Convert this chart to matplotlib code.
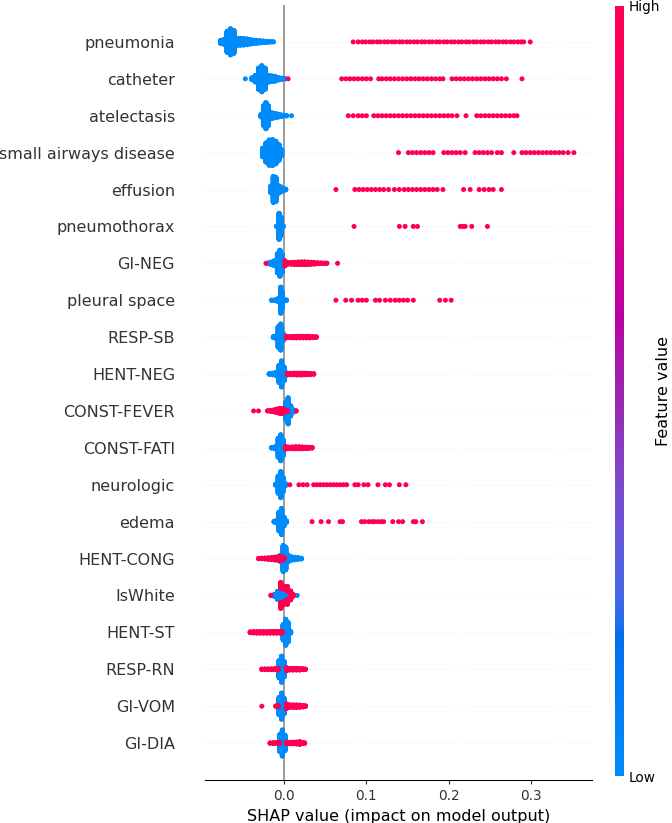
import numpy as np
import matplotlib
matplotlib.use("Agg")
import matplotlib.pyplot as plt
from matplotlib.colors import LinearSegmentedColormap, Normalize
from matplotlib.cm import ScalarMappable

# SHAP values in thousandths.
# plain number = one dot, (value, n) = n dots at that value
pneumonia_blue = [(-77, 20), (-73, 30), (-69, 130), (-65, 160), (-61, 140), (-57, 45), (-53, 42),
                  (-49, 40), (-45, 36), (-41, 28), (-37, 22), (-33, 18), (-29, 14), (-25, 10),
                  (-21, 7), (-17, 4), (-13, 2)]
pneumonia_red = [84, 90, 95, 99, 104, 108, 113, 117, 122, 126, 131, 135, 140, 144, 149, 153, 158,
                 162, 167, 171, 176, 180, 185, 189, 194, 198, 203, 207, 212, 216, 221, 225, 230,
                 234, 239, 243, 248, 252, 257, 261, 266, 270, 275, 279, 284, 288, 291, 299]

catheter_blue = [(-47, 1), (-39, 12), (-35, 40), (-31, 130), (-27, 160), (-23, 130), (-19, 42),
                 (-15, 36), (-11, 30), (-7, 16), (-3, 8), (1, 4)]
catheter_red = [5, 70, 75, 80, 85, 90, 95, 100, 105, 115, 119, 124, 129, 134, 139, 144, 149, 154,
                159, 164, 169, 174, 179, 184, 189, 193, 204, 209, 214, 219, 224, 229, 234, 239,
                244, 249, 254, 259, 264, 270, 289]

atelectasis_blue = [(-28, 15), (-25, 120), (-22, 160), (-19, 120), (-16, 40), (-13, 30), (-10, 24),
                    (-7, 18), (-4, 10), (-1, 6), (3, 3), (9, 1)]
atelectasis_red = [78, 84, 90, 95, 100, 109, 114, 119, 124, 129, 134, 139, 144, 149, 154, 159, 164,
                   169, 174, 179, 184, 189, 194, 199, 204, 210, 221, 234, 239, 244, 249, 254, 259,
                   264, 269, 274, 279, 283]

small_airways_blue = [(-26, 50), (-22, 110), (-18, 145), (-14, 150), (-10, 130), (-6, 90), (-3, 35)]
small_airways_red = [139, 151, 156, 161, 166, 171, 176, 181, 194, 199, 204, 209, 214, 220, 232, 237,
                     242, 247, 252, 259, 264, 279, 289, 294, 299, 304, 309, 314, 319, 324, 329, 334,
                     339, 345, 352]

effusion_blue = [(-16, 40), (-13, 150), (-10, 140), (-7, 45), (-4, 30), (-1, 15), (2, 5)]
effusion_red = [63, 86, 91, 96, 101, 106, 111, 116, 121, 127, 134, 140, 146, 151, 156, 161, 166,
                171, 176, 181, 186, 193, 218, 226, 237, 243, 249, 254, 264]

pneumothorax_blue = [(-9, 4), (-6, 150), (-4, 110), (-1, 4)]
pneumothorax_red = [85, 140, 147, 157, 162, 214, 217, 220, 228, 247]

gi_neg_blue = [(-20, 5), (-16, 14), (-12, 28), (-8, 110), (-5, 150), (-2, 100), (1, 25), (4, 8)]
gi_neg_red = [(-22, 1), (1, 6), (5, 9), (9, 11), (13, 13), (17, 15), (21, 16), (25, 16), (29, 15),
              (33, 12), (37, 9), (41, 6), (45, 4), (49, 3), (52, 2), (65, 1)]

pleural_blue = [(-15, 3), (-11, 5), (-7, 20), (-4, 150), (-2, 90), (1, 5), (3, 3)]
pleural_red = [63, 75, 82, 90, 95, 100, 111, 116, 123, 129, 135, 140, 145, 150, 157, 189, 196, 203]

resp_sb_blue = [(-13, 6), (-10, 15), (-7, 120), (-4, 150), (-1, 40), (3, 5)]
resp_sb_red = [(3, 5), (7, 7), (11, 9), (15, 10), (19, 10), (23, 10), (27, 10), (31, 9), (35, 7), (39, 4)]

hent_neg_blue = [(-18, 4), (-14, 10), (-10, 18), (-6, 100), (-3, 150), (0, 80), (3, 15)]
hent_neg_red = [(4, 7), (8, 9), (12, 10), (16, 11), (20, 11), (24, 10), (28, 9), (32, 7), (36, 4)]

const_fever_blue = [(-4, 10), (-1, 30), (2, 100), (5, 150), (8, 60), (11, 15), (14, 4)]
const_fever_red = [(-37, 1), (-31, 1), (-20, 2), (-17, 4), (-14, 8), (-11, 14), (-8, 22), (-5, 30),
                   (-2, 30), (1, 12), (4, 5), (15, 1)]

const_fati_blue = [(-15, 4), (-11, 12), (-7, 110), (-4, 150), (-1, 90), (2, 10)]
const_fati_red = [(2, 6), (6, 9), (10, 11), (14, 12), (18, 12), (22, 11), (26, 9), (30, 7), (34, 4)]

neurologic_blue = [(-10, 8), (-7, 100), (-4, 150), (-1, 80), (2, 10)]
neurologic_red = [7, 18, 23, 28, 36, 40, 44, 48, 52, 56, 60, 64, 68, 72, 76, 86, 90, 97, 102, 114,
                  123, 128, 140, 148]

edema_blue = [(-12, 5), (-9, 15), (-6, 110), (-3, 150), (0, 50), (3, 8)]
edema_red = [34, 45, 54, 68, 71, 94, 98, 103, 107, 110, 114, 118, 121, 132, 139, 144, 157, 160, 168]

hent_cong_blue = [(-4, 40), (-1, 150), (2, 130), (5, 40), (9, 20), (13, 15), (17, 10), (21, 5)]
hent_cong_red = [(-31, 2), (-27, 4), (-23, 6), (-19, 9), (-15, 13), (-11, 17), (-7, 22), (-3, 22), (0, 8)]

is_white_blue = [(-12, 10), (-8, 40), (-4, 70), (0, 60), (4, 40), (8, 15), (16, 1)]
is_white_red = [(-16, 2), (-4, 60), (0, 30), (4, 50), (8, 30), (11, 10)]

hent_st_blue = [(-1, 90), (2, 150), (5, 110), (8, 10)]
hent_st_red = [(-41, 6), (-37, 8), (-33, 9), (-29, 9), (-25, 9), (-21, 9), (-17, 10), (-13, 10),
               (-9, 10), (-5, 10), (-2, 8)]

resp_rn_blue = [(-6, 100), (-3, 150), (0, 90), (3, 10)]
resp_rn_red = [(-27, 3), (-23, 4), (-19, 5), (-15, 5), (-11, 6), (-7, 6), (3, 8), (7, 10), (11, 10),
               (15, 10), (19, 9), (23, 6), (26, 3)]

gi_vom_blue = [(-6, 100), (-3, 150), (0, 90), (3, 15)]
gi_vom_red = [(-27, 1), (-10, 3), (-7, 4), (3, 12), (7, 14), (11, 15), (15, 15), (19, 13), (23, 9), (26, 4)]

gi_dia_blue = [(-5, 100), (-2, 150), (1, 90), (4, 10)]
gi_dia_red = [(-17, 3), (-13, 5), (-9, 6), (-6, 6), (3, 8), (7, 9), (11, 10), (15, 12), (19, 16),
              (22, 8), (25, 3)]

# top to bottom
features = ["pneumonia", "catheter", "atelectasis", "small airways disease", "effusion",
            "pneumothorax", "GI-NEG", "pleural space", "RESP-SB", "HENT-NEG", "CONST-FEVER",
            "CONST-FATI", "neurologic", "edema", "HENT-CONG", "IsWhite", "HENT-ST", "RESP-RN",
            "GI-VOM", "GI-DIA"]
blue_sets = [pneumonia_blue, catheter_blue, atelectasis_blue, small_airways_blue, effusion_blue,
             pneumothorax_blue, gi_neg_blue, pleural_blue, resp_sb_blue, hent_neg_blue,
             const_fever_blue, const_fati_blue, neurologic_blue, edema_blue, hent_cong_blue,
             is_white_blue, hent_st_blue, resp_rn_blue, gi_vom_blue, gi_dia_blue]
red_sets = [pneumonia_red, catheter_red, atelectasis_red, small_airways_red, effusion_red,
            pneumothorax_red, gi_neg_red, pleural_red, resp_sb_red, hent_neg_red,
            const_fever_red, const_fati_red, neurologic_red, edema_red, hent_cong_red,
            is_white_red, hent_st_red, resp_rn_red, gi_vom_red, gi_dia_red]


def expand(entries):
    out = []
    for e in entries:
        if isinstance(e, tuple):
            out += [e[0]] * e[1]
        else:
            out.append(e)
    return np.array(out, dtype=float) / 1000.0


def swarm(vals, nbins=100, row_height=0.4):
    # same stacking as the shap beeswarm
    quant = np.round(nbins * (vals - vals.min()) / (vals.max() - vals.min() + 1e-8))
    inds = np.argsort(quant, kind="stable")
    layer, last_bin = 0, -1
    ys = np.zeros(len(vals))
    for ind in inds:
        if quant[ind] != last_bin:
            layer = 0
        ys[ind] = np.ceil(layer / 2) * ((layer % 2) * 2 - 1)
        layer += 1
        last_bin = quant[ind]
    ys *= 0.9 * (row_height / np.max(ys + 1))
    return ys


def lch2rgb(l, c, h):
    a, b = c * np.cos(h), c * np.sin(h)
    fy = (l + 16) / 116.0
    fx, fz = fy + a / 500.0, fy - b / 200.0

    def finv(t):
        return t ** 3 if t > 6 / 29 else 3 * (6 / 29) ** 2 * (t - 4 / 29)
    xyz = np.array([0.95047 * finv(fx), finv(fy), 1.08883 * finv(fz)])
    m = np.array([[3.2406, -1.5372, -0.4986], [-0.9689, 1.8758, 0.0415], [0.0557, -0.2040, 1.0570]])
    rgb = m @ xyz
    rgb = np.where(rgb <= 0.0031308, 12.92 * rgb, 1.055 * np.abs(rgb) ** (1 / 2.4) - 0.055)
    return np.clip(rgb, 0, 1)


# shap red_blue colormap
steps = 100
l_vals = list(np.linspace(54, 40, steps // 2)) + list(np.linspace(40, 54, steps // 2))
c_vals = np.linspace(70, 90, steps)
h_vals = np.linspace(4.6588, 0.35470565 + 2 * np.pi, steps)
cols = [lch2rgb(l, c, h) for l, c, h in zip(l_vals, c_vals, h_vals)]
red_blue = LinearSegmentedColormap.from_list("red_blue", cols)

fig = plt.figure(figsize=(6.72, 8.23), dpi=100)
ax = fig.add_axes([205 / 672, 1 - 780 / 823, 387 / 672, 775 / 823])
cax = fig.add_axes([615 / 672, 1 - 776 / 823, 9 / 672, 770 / 823])

n = len(features)
ax.axvline(0, color="#999999", lw=1.35, zorder=-1)
for i, (blue, red) in enumerate(zip(blue_sets, red_sets)):
    pos = n - 1 - i
    ax.axhline(pos, color="#cccccc", lw=0.5, dashes=(1, 5), zorder=-1)
    b, r = expand(blue), expand(red)
    vals = np.concatenate([b, r])
    colors = np.concatenate([np.zeros(len(b)), np.ones(len(r))])
    ys = swarm(vals)
    ax.scatter(vals, pos + ys, c=colors, cmap=red_blue, vmin=0, vmax=1,
               s=13, linewidth=0, zorder=3)

ax.set_xlim(-0.096, 0.374)
ax.set_ylim(-1, n)
ax.set_yticks(range(n))
ax.set_yticklabels(features[::-1], fontsize=11.5)
ax.set_xticks([0.0, 0.1, 0.2, 0.3])
ax.set_xticklabels(["0.0", "0.1", "0.2", "0.3"])
ax.tick_params("y", length=0, pad=21.6, labelcolor="#333333")
ax.tick_params("x", labelsize=9.8, color="#333333", labelcolor="#333333", length=3)
for side in ["top", "right", "left"]:
    ax.spines[side].set_visible(False)
ax.spines["bottom"].set_linewidth(0.75)
ax.set_xlabel("SHAP value (impact on model output)", fontsize=11.5)

cb = fig.colorbar(ScalarMappable(norm=Normalize(0, 1), cmap=red_blue), cax=cax, ticks=[0, 1])
cb.set_ticklabels(["Low", "High"])
cb.ax.tick_params(labelsize=9.8, length=0, pad=3)
cb.outline.set_visible(False)
fig.text(663 / 672, 1 - 391 / 823, "Feature value", rotation=90, fontsize=11.5,
         ha="center", va="center")

fig.savefig("out.png", dpi=100)
